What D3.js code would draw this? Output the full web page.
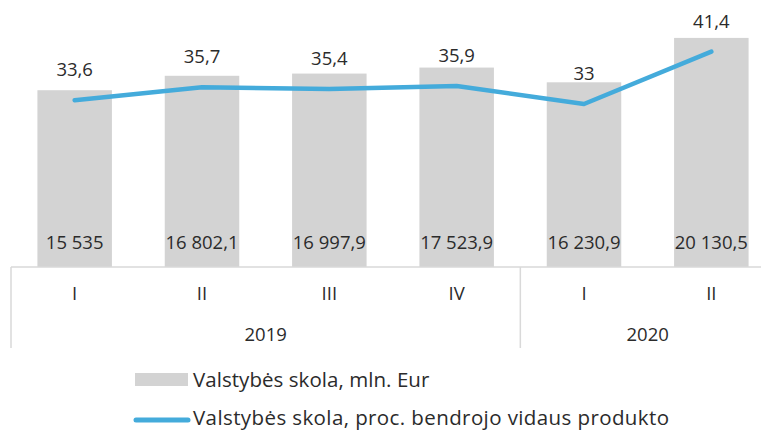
<!DOCTYPE html>
<html>
<head>
<meta charset="utf-8">
<script src="https://cdn.jsdelivr.net/npm/d3@7"></script>
<style>
  body { margin: 0; background: #fff; }
  svg { display: block; font-family: "Open Sans", Roboto, sans-serif; font-weight: 400; }
</style>
</head>
<body>
<svg id="chart" width="761" height="430"></svg>
<script>
// quarters and years (two-level category axis)
var quarterLabels = ["I", "II", "III", "IV", "I", "II"];
var yearLabels = ["2019", "2020"];
var yearCounts = [4, 2];

// state debt, mln. Eur (bars) and % of GDP (line)
var debtMln = [15535, 16802.1, 16997.9, 17523.9, 16230.9, 20130.5];
var debtPct = [33.6, 35.7, 35.4, 35.9, 33, 41.4];

var svg = d3.select('#chart');

var fmtMln = function(v) {
  return d3.format(',')(v).replace(/,/g, ' ').replace('.', ',');
};
var fmtPct = function(v) { return String(v).replace('.', ','); };

var x = d3.scaleBand()
  .domain(d3.range(debtMln.length))
  .range([11, 775])
  .paddingInner(0.415)
  .paddingOuter(0.2075);

var yBar = d3.scaleLinear().domain([0, 20000]).range([267, 39.4]);
var yLine = d3.scaleLinear().domain([30, 45]).range([122.7, 29.25]);

var textColor = '#2b2b2b';

// bars
svg.append('g').selectAll('rect')
  .data(debtMln)
  .enter()
  .append('rect')
    .attr('x', function(d, i) { return x(i); })
    .attr('y', function(d) { return yBar(d); })
    .attr('width', x.bandwidth())
    .attr('height', function(d) { return yBar(0) - yBar(d); })
    .style('fill', '#d3d3d3');

// bar labels inside at the bottom
svg.append('g').selectAll('text')
  .data(debtMln)
  .enter()
  .append('text')
    .attr('x', function(d, i) { return x(i) + x.bandwidth() / 2; })
    .attr('y', yBar(0) - 18)
    .attr('text-anchor', 'middle')
    .style('font-size', '18.5px')
    .style('fill', textColor)
    .text(fmtMln);

// x axis line and group separators
svg.append('line')
  .attr('x1', x.range()[0]).attr('x2', x.range()[1])
  .attr('y1', yBar(0)).attr('y2', yBar(0))
  .style('stroke', '#d9d9d9').style('stroke-width', 1.5);

var bounds = [0];
yearCounts.forEach(function(c, i) { bounds.push(bounds[i] + c); });

svg.append('g').selectAll('line')
  .data(bounds)
  .enter()
  .append('line')
    .attr('x1', function(d) { return x.range()[0] + d * x.step(); })
    .attr('x2', function(d) { return x.range()[0] + d * x.step(); })
    .attr('y1', yBar(0))
    .attr('y2', 348)
    .style('stroke', '#d9d9d9').style('stroke-width', 1.5);

// quarter labels via the axis
var xAxis = d3.axisBottom(x)
  .tickSize(0)
  .tickPadding(0)
  .tickFormat(function(i) { return quarterLabels[i]; });

var gx = svg.append('g')
  .attr('transform', 'translate(0,' + 300 + ')')
  .call(xAxis);
gx.select('.domain').remove();
gx.selectAll('text')
  .attr('dy', null)
  .attr('y', 0)
  .style('font-family', '"Open Sans", Roboto, sans-serif')
  .style('font-weight', 400)
  .style('font-size', '18.5px')
  .style('fill', textColor);

// year labels
svg.append('g').selectAll('text')
  .data(yearLabels)
  .enter()
  .append('text')
    .attr('x', function(d, i) {
      return x.range()[0] + (bounds[i] + bounds[i + 1]) / 2 * x.step();
    })
    .attr('y', 341)
    .attr('text-anchor', 'middle')
    .style('font-size', '18.5px')
    .style('fill', textColor)
    .text(function(d) { return d; });

// line
var line = d3.line()
  .x(function(d, i) { return x(i) + x.bandwidth() / 2; })
  .y(function(d) { return yLine(d); });

svg.append('path')
  .datum(debtPct)
  .attr('d', line)
  .style('fill', 'none')
  .style('stroke', '#44abdb')
  .style('stroke-width', 4.5)
  .style('stroke-linecap', 'round')
  .style('stroke-linejoin', 'round');

svg.append('g').selectAll('text')
  .data(debtPct)
  .enter()
  .append('text')
    .attr('x', function(d, i) { return x(i) + x.bandwidth() / 2; })
    .attr('y', function(d) { return yLine(d) - 24; })
    .attr('text-anchor', 'middle')
    .style('font-size', '18.5px')
    .style('fill', textColor)
    .text(fmtPct);

// legend
var legend = svg.append('g')
  .style('font-size', '20.5px')
  .style('fill', textColor);
legend.append('rect')
  .attr('x', 135).attr('y', 373).attr('width', 53).attr('height', 13)
  .style('fill', '#d3d3d3');
legend.append('text')
  .attr('x', 193).attr('y', 387)
  .style('letter-spacing', '0.05px')
  .text('Valstybės skola, mln. Eur');
legend.append('line')
  .attr('x1', 136).attr('x2', 188).attr('y1', 420).attr('y2', 420)
  .style('stroke', '#44abdb')
  .style('stroke-width', 5)
  .style('stroke-linecap', 'round');
legend.append('text')
  .attr('x', 193).attr('y', 425)
  .style('letter-spacing', '0.4px')
  .text('Valstybės skola, proc. bendrojo vidaus produkto');
</script>
</body>
</html>
